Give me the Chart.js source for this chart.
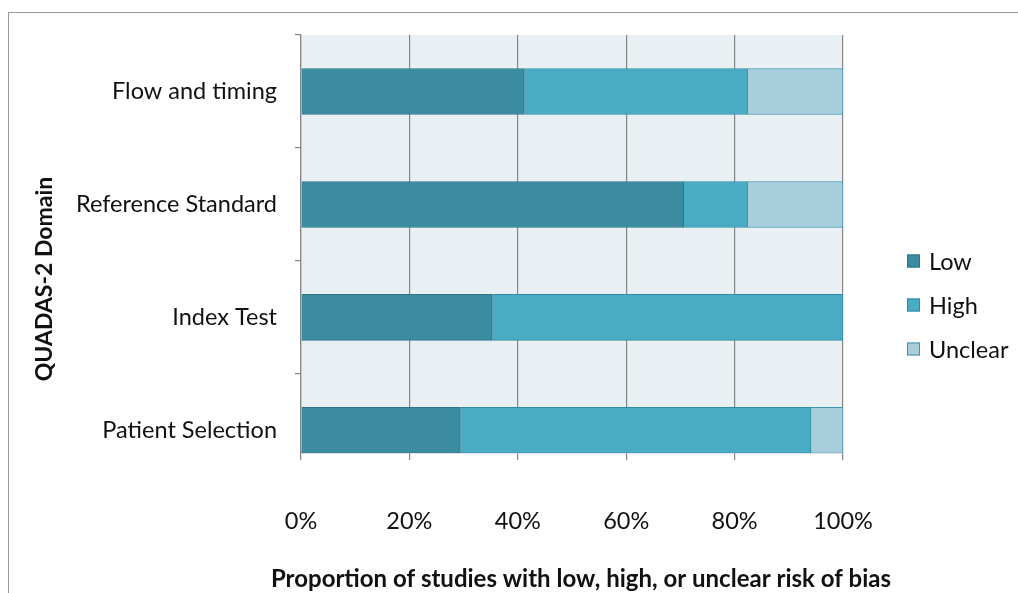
<!DOCTYPE html>
<html>
<head>
<meta charset="UTF-8">
<title>QUADAS-2 risk of bias</title>
<script src="https://cdn.jsdelivr.net/npm/chart.js@4.4.1/dist/chart.umd.min.js"></script>
<style>
	html, body { margin: 0; padding: 0; background: #fff; }
	#frame { position: absolute; left: 8px; top: 12px; width: 1020px; height: 620px; border: 1.5px solid #9a9a9a; box-sizing: border-box; }
	#wrap { position: absolute; left: 0; top: 0; width: 1018px; height: 593px; }
</style>
</head>
<body>
<div id="frame"></div>
<div id="wrap"><canvas id="biasChart" width="1018" height="593"></canvas></div>
<script>
	// domains, top to bottom
	var domains = ["Flow and timing", "Reference Standard", "Index Test", "Patient Selection"];
	// percent of studies (17 studies)
	var lowRisk     = [41.2, 70.6, 35.3, 29.4];
	var highRisk    = [41.2, 11.8, 64.7, 64.7];
	var unclearRisk = [17.6, 17.6, 0,    5.9];
	var xTicks = [0, 20, 40, 60, 80, 100];

	var FONT = "Lato, 'Noto Sans', sans-serif";
	var yTitle = 'QUADAS-2 Domain';
	var xTitle = 'Proportion of studies with low, high, or unclear risk of bias';

	function points(arr) {
		return arr.map(function(v, i) { return { x: v, y: i }; });
	}

	var plotBg = {
		id: 'plotBg',
		beforeDraw: function(chart) {
			var a = chart.chartArea, c = chart.ctx;
			c.save();
			c.fillStyle = '#e9f0f4';
			c.fillRect(a.left, a.top, a.right - a.left, a.bottom - a.top);
			c.restore();
		}
	};

	// legend and both axis titles, drawn round the plot
	// (the scale's own title gets squeezed to the axis width)
	var sideText = {
		id: 'sideText',
		afterDraw: function(chart) {
			var c = chart.ctx, a = chart.chartArea;
			var x = a.right + 64, y = 261;
			c.save();
			c.font = '23.5px ' + FONT;
			c.textBaseline = 'middle';
			chart.data.datasets.forEach(function(ds, i) {
				var yy = y + i * 44;
				c.fillStyle = ds.backgroundColor;
				c.fillRect(x, yy - 6.5, 13, 13);
				c.strokeStyle = ds.borderColor;
				c.lineWidth = 1;
				c.strokeRect(x + 0.5, yy - 6, 12, 12);
				c.fillStyle = '#111';
				c.fillText(ds.label, x + 22, yy + 1);
			});
			c.textAlign = 'center';
			c.font = 'bold 24px ' + FONT;
			c.fillText(xTitle, 581, 579);
			c.translate(45, 279);
			c.rotate(-Math.PI / 2);
			c.font = 'bold 23px ' + FONT;
			c.fillText(yTitle, 0, 0);
			c.restore();
		}
	};

	var data = {
		datasets: [
			{ label: 'Low', data: points(lowRisk), backgroundColor: '#3b8ba1', borderColor: '#2d7487', borderWidth: 1 },
			{ label: 'High', data: points(highRisk), backgroundColor: '#4aabc5', borderColor: '#2f8aa3', borderWidth: 1 },
			{ label: 'Unclear', data: points(unclearRisk), backgroundColor: '#a8cedc', borderColor: '#3f93aa', borderWidth: 1 }
		]
	};

	var options = {
		indexAxis: 'y',
		responsive: false,
		animation: false,
		layout: { padding: { left: 0, top: 35, right: 175, bottom: 0 } },
		datasets: { bar: { barThickness: 46 } },
		plugins: { legend: { display: false }, tooltip: { enabled: false } },
		scales: {
			x: {
				type: 'linear',
				stacked: true,
				min: 0, max: 100,
				afterBuildTicks: function(s) { s.ticks = xTicks.map(function(v) { return { value: v }; }); },
				afterFit: function(s) { s.height = 140; },
				grid: { color: '#858585', lineWidth: 1.2, tickLength: 7 },
				border: { color: '#858585', width: 1.2 },
				ticks: {
					padding: 47, color: '#111',
					font: { family: FONT, size: 23.5 },
					callback: function(v) { return v + '%'; }
				}
			},
			y: {
				type: 'linear',
				stacked: true,
				reverse: true,
				offset: false,
				min: -0.5, max: 3.2,
				afterBuildTicks: function(s) { s.ticks = domains.map(function(d, i) { return { value: i }; }); },
				afterFit: function(s) { s.width = 301; },
				grid: { drawOnChartArea: false, color: '#858585', lineWidth: 1.2, tickLength: 6, offset: true },
				border: { color: '#858585', width: 1.2 },
				ticks: {
					padding: 18, color: '#111', autoSkip: false,
					font: { family: FONT, size: 23.5 },
					callback: function(v) { return domains[v]; }
				}
			}
		}
	};

	var ctx = document.getElementById('biasChart').getContext('2d');
	var biasChart = new Chart(ctx, { type: 'bar', data: data, options: options, plugins: [plotBg, sideText] });
</script>
</body>
</html>
